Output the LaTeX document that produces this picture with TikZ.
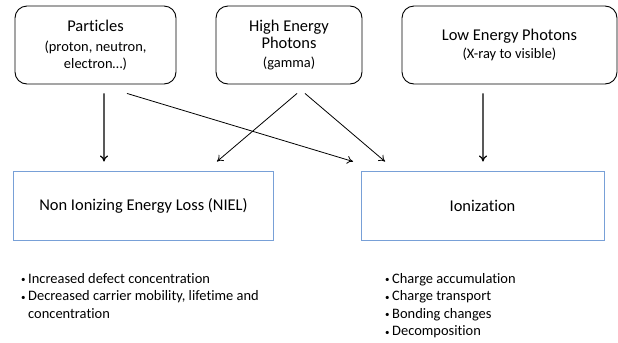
\documentclass[tikz,border=0pt]{standalone}
\usepackage{fontspec}
\setmainfont{Carlito}[Ligatures=NoCommon]
\usetikzlibrary{calc,arrows.meta}
\definecolor{boxblue}{RGB}{120,160,215}
\newcommand{\bul}{\makebox[7bp][l]{\raisebox{0.5bp}{\fontsize{9}{9}\selectfont\textbullet}}}
\begin{document}
\begin{tikzpicture}[x=1bp,y=-1bp,
  srcbox/.style={draw=black,line width=0.9bp,rounded corners=12bp,inner sep=0,align=center,
    font=\fontsize{14.5}{17}\selectfont},
  effbox/.style={draw=boxblue,line width=1bp,inner sep=0,align=center,
    font=\fontsize{16.5}{19}\selectfont},
  bigarrow/.style={-{To[length=6bp,width=8bp]},line width=1.2bp},
  thinarrow/.style={-{To[length=6bp,width=8bp]},line width=0.8bp},
  listtext/.style={inner sep=0,align=left,anchor=north west,font=\fontsize{14.5}{17.6}\selectfont}]
\useasboundingbox (0,0) rectangle (618,342);
\node[srcbox,minimum width=161bp,minimum height=78bp] (P) at (95.5,45)
  {{\fontsize{16.5}{19}\selectfont Particles}\\[3bp](proton, neutron,\\electron…)};
\node[srcbox,minimum width=146bp,minimum height=78bp] (H) at (289,45)
  {{\fontsize{16.5}{19}\selectfont High Energy}\\[1bp]{\fontsize{16.5}{19}\selectfont Photons}\\[2bp](gamma)};
\node[srcbox,minimum width=215bp,minimum height=78bp] (L) at (509.5,45)
  {{\fontsize{16.5}{19}\selectfont Low Energy Photons}\\[1bp](X-ray to visible)};
\node[effbox,minimum width=259bp,minimum height=69bp] (N) at (143.5,205.5)
  {Non Ionizing Energy Loss (NIEL)};
\node[effbox,minimum width=243bp,minimum height=69bp] (I) at (482.5,205.5)
  {Ionization};
\draw[bigarrow] ($(P.south)+(8.5,9)$) -- ($(N.north)+(-39.5,-9)$);
\draw[thinarrow] ($(P.south)+(31.5,9)$) -- ($(I.north)+(-129.5,-9)$);
\draw[thinarrow] ($(H.south)+(8,9)$) -- ($(N.north)+(73.5,-9)$);
\draw[thinarrow] ($(H.south)+(16,9)$) -- ($(I.north)+(-97.5,-9)$);
\draw[bigarrow] ($(L.south)+(-26.5,9)$) -- ($(I.north)+(0.5,-9)$);
\node[listtext] (NL) at (21,273)
  {\bul Increased defect concentration\\\bul Decreased carrier mobility, lifetime and\\\hspace*{7bp}concentration};
\node[listtext] (IL) at (385,273)
  {\bul Charge accumulation\\\bul Charge transport\\\bul Bonding changes\\\bul Decomposition};
\end{tikzpicture}
\end{document}
